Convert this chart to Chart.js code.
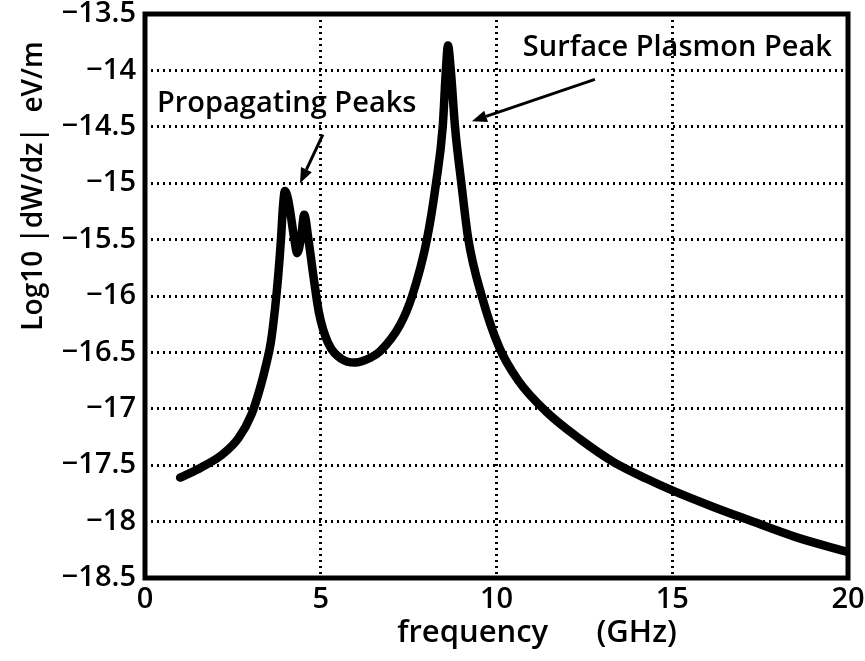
<!DOCTYPE html>
<html>
<head>
<meta charset="utf-8">
<script src="https://cdn.jsdelivr.net/npm/chart.js@4.4.0/dist/chart.umd.min.js"></script>
<style>
  html, body { margin: 0; padding: 0; background: #fff; }
  canvas { display: block; }
</style>
</head>
<body>
<canvas id="c" width="865" height="661"></canvas>
<script>
// frequency in GHz
var freqGHz = [1.0, 1.6, 2.18, 2.66, 3.03, 3.27, 3.46, 3.58, 3.70, 3.79, 3.87, 3.92, 3.98, 4.06, 4.13, 4.25, 4.33, 4.44, 4.53,
  4.65, 4.79, 4.95, 5.2, 5.6, 5.97, 6.4, 6.69, 7.25, 7.6, 8.02, 8.28, 8.47, 8.56, 8.62, 8.70, 8.82, 9.0, 9.2, 9.58,
  10.07, 10.62, 11.43, 12.38, 13.32, 14.27, 15.05, 16.17, 17.12, 18.54, 20.0];
// Log10 |dW/dz| (eV/m)
var logdWdz = [-17.61, -17.52, -17.41, -17.26, -17.05, -16.82, -16.59, -16.41, -16.11, -15.82, -15.49, -15.23, -15.07, -15.13, -15.25, -15.5, -15.62, -15.48, -15.28,
  -15.5, -15.82, -16.15, -16.41, -16.56, -16.59, -16.55, -16.49, -16.26, -16.0, -15.5, -15.0, -14.5, -14.0, -13.78, -14.0, -14.5, -15.0, -15.5, -16.0,
  -16.45, -16.75, -17.03, -17.27, -17.47, -17.62, -17.73, -17.87, -17.98, -18.14, -18.27];

var xRange = [0, 20], xStep = 5;
var yRange = [-18.5, -13.5], yStep = 0.5;

var xTitle = 'frequency      (GHz)';
var yTitle = 'Log10 |dW/dz|  eV/m';

// annotations, in data units
var notes = [
  { text: 'Propagating Peaks', x: 0.34, y: -14.37 },
  { text: 'Surface Plasmon Peak', x: 10.75, y: -13.87 }
];
var arrows = [
  { from: [5.06, -14.57], to: [4.41, -15.0] },
  { from: [12.8, -14.08], to: [9.3, -14.45] }
];

var FONT = '"Open Sans", "DejaVu Sans", sans-serif';

function minus(v){ return String(v).replace('-', '\u2212'); }

var points = freqGHz.map(function(f, i){ return { x: f, y: logdWdz[i] }; });

var extras = {
  id: 'extras',
  afterDraw: function(chart){
    var ctx = chart.ctx, a = chart.chartArea, sx = chart.scales.x, sy = chart.scales.y;
    ctx.save();
    ctx.strokeStyle = '#000';
    ctx.lineWidth = 5;
    ctx.strokeRect(a.left, a.top, a.right - a.left, a.bottom - a.top);

    ctx.fillStyle = '#000';
    ctx.font = '600 29px ' + FONT;
    ctx.textBaseline = 'alphabetic';
    ctx.textAlign = 'left';
    notes.forEach(function(n){
      ctx.fillText(n.text, sx.getPixelForValue(n.x), sy.getPixelForValue(n.y));
    });

    ctx.lineWidth = 3;
    arrows.forEach(function(r){
      var x0 = sx.getPixelForValue(r.from[0]), y0 = sy.getPixelForValue(r.from[1]);
      var x1 = sx.getPixelForValue(r.to[0]), y1 = sy.getPixelForValue(r.to[1]);
      var ang = Math.atan2(y1 - y0, x1 - x0), L = 15, W = 6;
      var bx = x1 - L * Math.cos(ang), by = y1 - L * Math.sin(ang);
      ctx.beginPath(); ctx.moveTo(x0, y0); ctx.lineTo(bx, by); ctx.stroke();
      ctx.beginPath();
      ctx.moveTo(x1, y1);
      ctx.lineTo(bx + W * Math.sin(ang), by - W * Math.cos(ang));
      ctx.lineTo(bx - W * Math.sin(ang), by + W * Math.cos(ang));
      ctx.closePath(); ctx.fill();
    });

    // axis titles
    ctx.font = '600 31px ' + FONT;
    ctx.textAlign = 'center';
    ctx.textBaseline = 'middle';
    ctx.fillText(xTitle, 537, 633);
    ctx.font = '600 28px ' + FONT;
    ctx.translate(34, 186);
    ctx.rotate(-Math.PI / 2);
    ctx.fillText(yTitle, 0, 0);
    ctx.restore();
  }
};

function gridColor(c){
  var v = c.tick && c.tick.value;
  var sc = c.scale;
  if (v === sc.min || v === sc.max) return 'rgba(0,0,0,0)';
  return '#000';
}

new Chart(document.getElementById('c').getContext('2d'), {
  type: 'line',
  data: {
    datasets: [{
      data: points,
      borderColor: '#000',
      borderWidth: 8.5,
      pointRadius: 0,
      fill: false,
      cubicInterpolationMode: 'monotone',
      borderCapStyle: 'round',
      borderJoinStyle: 'round'
    }]
  },
  options: {
    responsive: false,
    animation: false,
    layout: { padding: { left: 0, top: 14, right: 17, bottom: 0 } },
    plugins: { legend: { display: false }, tooltip: { enabled: false } },
    scales: {
      x: {
        type: 'linear',
        min: xRange[0], max: xRange[1],
        afterFit: function(s){ s.height = 83; s.paddingLeft = 0; s.paddingRight = 0; },
        ticks: { stepSize: xStep, color: '#000', padding: 4, maxRotation: 0,
          font: { family: FONT, size: 29, weight: '600' }, callback: function(v){ return minus(v); } },
        grid: { color: gridColor, lineWidth: 3, drawTicks: false },
        border: { display: false, dash: [2, 4] }
      },
      y: {
        min: yRange[0], max: yRange[1],
        afterFit: function(s){ s.width = 145; s.paddingTop = 0; s.paddingBottom = 0; },
        ticks: { stepSize: yStep, color: '#000', padding: 9,
          font: { family: FONT, size: 29, weight: '600' }, callback: function(v){ return minus(v); } },
        grid: { color: gridColor, lineWidth: 3, drawTicks: false },
        border: { display: false, dash: [2, 4] }
      }
    }
  },
  plugins: [extras]
});
</script>
</body>
</html>
